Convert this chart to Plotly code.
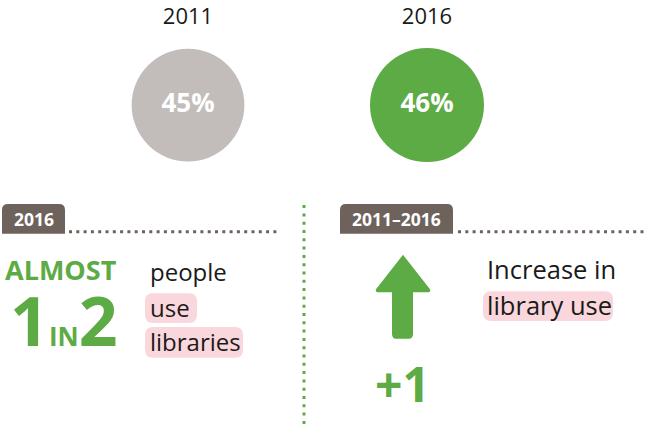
import plotly.graph_objects as go

W, H = 647, 427

years = ["2011", "2016"]
shares = [45, 46]
circle_colors = ["#c2bdba", "#5dab45"]

GREEN = "#5dab45"
TAB = "#6e625d"
PINK = "#fad7dc"
INK = "#1a1a1a"
FONT = "Open Sans"


def tab_path(x0, y0, x1, y1, r=6):
    return (f"M {x0},{y1} L {x0},{y0 + r} Q {x0},{y0} {x0 + r},{y0} "
            f"L {x1 - r},{y0} Q {x1},{y0} {x1},{y0 + r} L {x1},{y1} Z")


def round_box(x0, y0, x1, y1, r=8):
    return (f"M {x0 + r},{y0} L {x1 - r},{y0} Q {x1},{y0} {x1},{y0 + r} "
            f"L {x1},{y1 - r} Q {x1},{y1} {x1 - r},{y1} L {x0 + r},{y1} "
            f"Q {x0},{y1} {x0},{y1 - r} L {x0},{y0 + r} Q {x0},{y0} {x0 + r},{y0} Z")


fig = go.Figure()

# circles: area scaled by share
sizes = [114 * (s / max(shares)) ** 0.5 for s in shares]
fig.add_trace(go.Scatter(
    x=years, y=[0] * len(years), mode="markers+text",
    marker=dict(size=sizes, color=circle_colors, line_width=0, opacity=1),
    text=[f"<b>{s}%</b>" for s in shares],
    textposition="middle center",
    textfont=dict(family=FONT, size=26, color="white"),
    hoverinfo="skip", cliponaxis=False, xaxis="x", yaxis="y",
))

P = dict(xref="x2", yref="y2")
shapes = [
    dict(type="path", path=tab_path(2, 202, 65, 232), fillcolor=TAB, line_width=0, **P),
    dict(type="path", path=tab_path(340, 202, 453, 232), fillcolor=TAB, line_width=0, **P),
    dict(type="line", x0=69, x1=280, y0=230, y1=230,
         line=dict(color=TAB, width=3, dash="3px,4.3px"), **P),
    dict(type="line", x0=458, x1=647, y0=230, y1=230,
         line=dict(color=TAB, width=3, dash="3px,4.3px"), **P),
    dict(type="line", x0=304, x1=304, y0=203, y1=427,
         line=dict(color=GREEN, width=3, dash="3px,5.3px"), **P),
    dict(type="path", path=round_box(145, 292, 197, 322), fillcolor=PINK, line_width=0, layer="below", **P),
    dict(type="path", path=round_box(145, 326, 243, 357), fillcolor=PINK, line_width=0, layer="below", **P),
    dict(type="path", path=round_box(483, 290, 613, 320), fillcolor=PINK, line_width=0, layer="below", **P),
    # up arrow
    dict(type="path",
         path=("M 403,253 L 430,288 Q 431,291 428,291 L 413,291 L 413,333 "
               "Q 413,338 408,338 L 397,338 Q 392,338 392,333 L 392,291 "
               "L 378,291 Q 375,291 376,288 Z"),
         fillcolor=GREEN, line_width=0, **P),
]


def note(text, x, y, size, color=INK, xanchor="left"):
    return dict(text=text, x=x, y=y, xanchor=xanchor, yanchor="middle",
                showarrow=False, font=dict(family=FONT, size=size, color=color), **P)


annotations = [
    note("<b>2016</b>", 33.5, 217, 17.5, "white", "center"),
    note("<b>2011–2016</b>", 396.5, 217, 17.5, "white", "center"),
    note("<b>ALMOST</b>", 3, 268, 27, GREEN),
    note("<b>1<span style='font-size:26px'>IN</span>2</b>", 8, 318, 68, GREEN),
    note("people", 148, 270, 24),
    note("use", 148, 306, 24),
    note("libraries", 148, 341, 24),
    note("Increase in", 485, 268, 25.5),
    note("library use", 485, 304, 25.5),
    note(f"<b>+{shares[1] - shares[0]}</b>", 373, 383, 48, GREEN),
]

# circle row, in pixels from the top
top_px, bottom_px = 26, 178
step = 239  # pixels between the two year categories
r0 = -188 / step
fig.update_layout(
    width=W, height=H,
    margin=dict(l=0, r=0, t=0, b=0),
    paper_bgcolor="white", plot_bgcolor="rgba(0,0,0,0)",
    showlegend=False,
    xaxis=dict(type="category", side="top", range=[r0, r0 + W / step], domain=[0, 1],
               showgrid=False, zeroline=False, showline=False, ticks="",
               tickfont=dict(family=FONT, size=22, color=INK), anchor="y", fixedrange=True),
    yaxis=dict(domain=[1 - bottom_px / H, 1 - top_px / H], range=[-1, 1], visible=False,
               anchor="x", fixedrange=True),
    xaxis2=dict(range=[0, W], domain=[0, 1], visible=False, anchor="y2", fixedrange=True),
    yaxis2=dict(range=[H, 0], domain=[0, 1], visible=False, anchor="x2", fixedrange=True),
    shapes=shapes,
    annotations=annotations,
)

fig.write_html("out.html", config={"displayModeBar": False},
               post_script="document.body.style.margin='0';")
